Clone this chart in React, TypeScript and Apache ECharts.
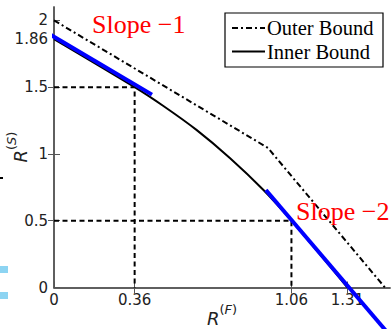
import React, { useEffect, useRef } from "react";
import * as echarts from "echarts";

const xTicks = [0, 0.36, 1.06, 1.31];
const yTicks = [0, 0.5, 1, 1.5, 1.86, 2];
const topTicks = [0.36, 1.06, 1.31];
const rightTicks = [0.5, 1, 1.5];

const outerX = [0, 0.955, 1.4775];
const outerY = [2, 1.045, 0];
const innerX = [0, 0.36, 0.49, 0.636, 0.785, 0.934, 1.06, 1.31];
const innerY = [1.86, 1.5, 1.357, 1.18, 0.97, 0.732, 0.5, 0];
const slope1X = [-0.219, 0.4375];
const slope1Y = [2.094, 1.444];
const slope2X = [0.946, 1.48];
const slope2Y = [0.73, -0.32];
const guideAX = [0, 0.36, 0.36];
const guideAY = [1.5, 1.5, 0];
const guideBX = [0, 1.06, 1.06];
const guideBY = [0.5, 0.5, 0];

const legendNames = ["Outer Bound", "Inner Bound"];
const slopeLabels = ["Slope \u22121", "Slope \u22122"];

const zip = (xs: number[], ys: number[]) => xs.map((x, i) => [x, ys[i]]);

const AXIS = "#555";
const LABEL_FONT = "'DejaVu Sans', sans-serif";
const SERIF = "'Liberation Serif', 'DejaVu Serif', serif";
const DASHDOT = [6, 3, 2, 3];
const DASH = [5, 3.5];

export default function App() {
  const ref = useRef<HTMLDivElement>(null);
  useEffect(() => {
    if (!ref.current) return;
    const chart = echarts.init(ref.current, undefined, { renderer: "svg" });
    const axisCommon = {
      type: "value" as const,
      splitLine: { show: false },
      axisLine: { show: true, lineStyle: { color: AXIS, width: 1.5 } },
    };
    const richAxis = {
      r: { fontSize: 18, fontStyle: "italic", fontFamily: LABEL_FONT, fill: "#222", lineHeight: 24, verticalAlign: "bottom" },
      s: { fontSize: 13, fontFamily: LABEL_FONT, fill: "#222", lineHeight: 15, verticalAlign: "top" },
      si: { fontSize: 13, fontStyle: "italic", fontFamily: LABEL_FONT, fill: "#222", lineHeight: 15, verticalAlign: "top" },
    };
    chart.setOption({
      animation: false,
      backgroundColor: "#fff",
      grid: { left: 54, top: 7, right: 1, bottom: 41.5, containLabel: false },
      xAxis: [
        {
          ...axisCommon,
          position: "bottom",
          min: 0,
          max: 1.5,
          axisTick: { show: true, inside: true, length: 6, customValues: xTicks, lineStyle: { color: AXIS, width: 1 } },
          axisLabel: {
            show: true,
            customValues: xTicks,
            margin: 5,
            color: "#222",
            fontSize: 15,
            fontFamily: LABEL_FONT,
            formatter: (v: number) => String(v),
          },
        },
        {
          ...axisCommon,
          position: "top",
          min: 0,
          max: 1.5,
          axisTick: { show: true, inside: true, length: 6, customValues: topTicks, lineStyle: { color: AXIS, width: 1 } },
          axisLabel: { show: false },
        },
      ],
      yAxis: [
        {
          ...axisCommon,
          position: "left",
          min: 0,
          max: 2.1,
          axisTick: { show: true, inside: true, length: 6, customValues: yTicks, lineStyle: { color: AXIS, width: 1 } },
          axisLabel: {
            show: true,
            customValues: yTicks,
            margin: 6,
            color: "#222",
            fontSize: 15,
            fontFamily: LABEL_FONT,
            formatter: (v: number) => String(v),
          },
        },
        {
          ...axisCommon,
          position: "right",
          min: 0,
          max: 2.1,
          axisTick: { show: true, inside: true, length: 6, customValues: rightTicks, lineStyle: { color: AXIS, width: 1 } },
          axisLabel: { show: false },
        },
      ],
      series: [
        {
          type: "line",
          data: zip(guideAX, guideAY),
          symbol: "none",
          lineStyle: { color: "#000", width: 2, type: DASH },
          z: 1,
        },
        {
          type: "line",
          data: zip(guideBX, guideBY),
          symbol: "none",
          lineStyle: { color: "#000", width: 2, type: DASH },
          z: 1,
        },
        {
          name: legendNames[0],
          type: "line",
          data: zip(outerX, outerY),
          symbol: "none",
          lineStyle: { color: "#000", width: 2, type: DASHDOT },
          z: 2,
        },
        {
          name: legendNames[1],
          type: "line",
          data: zip(innerX, innerY),
          symbol: "none",
          smooth: 0.3,
          lineStyle: { color: "#000", width: 2 },
          z: 2,
        },
        {
          type: "line",
          data: zip(slope1X, slope1Y),
          symbol: "none",
          clip: false,
          lineStyle: { color: "#0000ff", width: 4 },
          z: 3,
        },
        {
          type: "line",
          data: zip(slope2X, slope2Y),
          symbol: "none",
          clip: false,
          lineStyle: { color: "#0000ff", width: 4 },
          z: 3,
        },
      ],
      graphic: [
        { type: "rect", shape: { x: 0, y: 266, width: 8, height: 7 }, style: { fill: "#8dd4f2" } },
        { type: "rect", shape: { x: 0, y: 292, width: 8, height: 7 }, style: { fill: "#8dd4f2" } },
        { type: "rect", shape: { x: 0, y: 177, width: 3, height: 2 }, style: { fill: "#000" } },
        {
          type: "rect",
          shape: { x: 225, y: 13, width: 158, height: 54 },
          style: { fill: "#fff", stroke: "#000", lineWidth: 1.2 },
          z: 10,
        },
        {
          type: "line",
          shape: { x1: 232, y1: 28, x2: 265, y2: 28 },
          style: { stroke: "#000", lineWidth: 2, lineDash: DASHDOT },
          z: 11,
        },
        {
          type: "line",
          shape: { x1: 232, y1: 51.5, x2: 265, y2: 51.5 },
          style: { stroke: "#000", lineWidth: 2 },
          z: 11,
        },
        {
          type: "text",
          x: 267,
          y: 28,
          style: { text: legendNames[0], fontSize: 20.5, fontFamily: SERIF, fill: "#000", verticalAlign: "middle", align: "left" },
          z: 11,
        },
        {
          type: "text",
          x: 267,
          y: 51.5,
          style: { text: legendNames[1], fontSize: 20.5, fontFamily: SERIF, fill: "#000", verticalAlign: "middle", align: "left" },
          z: 11,
        },
        {
          type: "text",
          x: 92,
          y: 24,
          style: { text: slopeLabels[0], fontSize: 26, fontFamily: SERIF, fill: "#ff0000", verticalAlign: "middle", align: "left" },
          z: 11,
        },
        {
          type: "text",
          x: 296,
          y: 211,
          style: { text: slopeLabels[1], fontSize: 26, fontFamily: SERIF, fill: "#ff0000", verticalAlign: "middle", align: "left" },
          z: 11,
        },
        {
          type: "text",
          x: 222,
          y: 315,
          style: {
            text: "{r|R}{s|(}{si|F}{s|)}",
            align: "center",
            verticalAlign: "middle",
            fill: "#222",
            rich: richAxis,
          },
        },
        {
          type: "text",
          x: 17,
          y: 147,
          rotation: Math.PI / 2,
          style: {
            text: "{r|R}{s|(}{si|S}{s|)}",
            align: "center",
            verticalAlign: "middle",
            fill: "#222",
            rich: richAxis,
          },
        },
      ],
    });
    return () => chart.dispose();
  }, []);
  return (
    <div
      ref={ref}
      style={{ position: "fixed", left: 0, top: 0, width: 391, height: 329, background: "#fff" }}
    />
  );
}
